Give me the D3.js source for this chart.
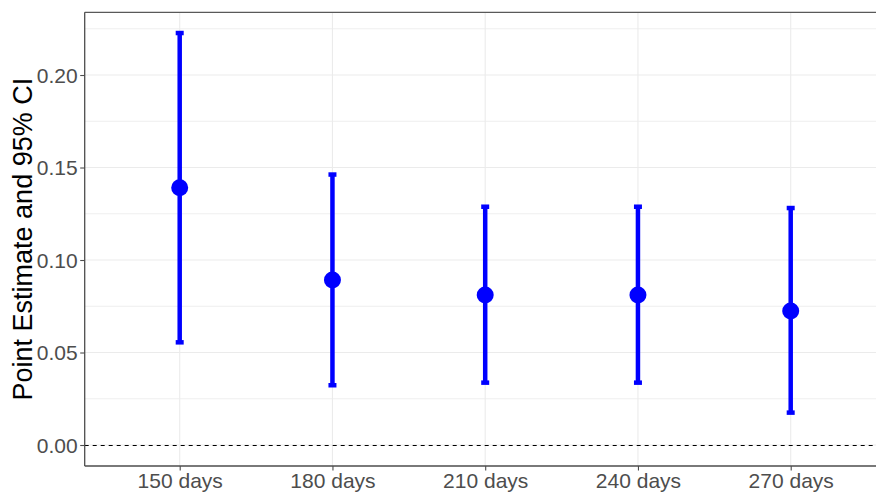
<!DOCTYPE html>
<html lang="en">
<head>
  <meta charset="UTF-8">
  <title>Point Estimate and 95% CI</title>
  <script src="https://d3js.org/d3.v7.min.js"></script>
  <style>
    body { margin: 0; background: #fff; }
    svg { display: block; font-family: "Liberation Sans", Arial, sans-serif; }
  </style>
</head>
<body>
  <div id="chart"></div>
  <script>
    // data
    var categories = ["150 days", "180 days", "210 days", "240 days", "270 days"];
    var estimates = [0.1390, 0.0892, 0.0811, 0.0811, 0.0724];
    var lowerCI = [0.0555, 0.0323, 0.0337, 0.0337, 0.0175];
    var upperCI = [0.2227, 0.1462, 0.1288, 0.1288, 0.1281];
    var yTicks = [0.00, 0.05, 0.10, 0.15, 0.20];
    var yMinorTicks = [0.025, 0.075, 0.125, 0.175, 0.225];

    var width = 876, height = 493;
    var panel = { left: 84.7, right: 876, top: 12.3, bottom: 466 };

    var svg = d3.select("#chart").append("svg")
      .attr("width", width)
      .attr("height", height);

    var x = d3.scalePoint()
      .domain(categories)
      .range([179.7, 790.7]);

    var y = d3.scaleLinear()
      .domain([-0.01135, 0.2339])
      .range([panel.bottom, panel.top]);

    // grid
    var grid = svg.append("g");
    grid.selectAll(".minor")
      .data(yMinorTicks)
      .enter().append("line")
      .attr("x1", panel.left).attr("x2", panel.right)
      .attr("y1", function (d) { return y(d); })
      .attr("y2", function (d) { return y(d); })
      .attr("stroke", "#ebebeb").attr("stroke-width", 0.8);
    grid.selectAll(".major")
      .data(yTicks)
      .enter().append("line")
      .attr("x1", panel.left).attr("x2", panel.right)
      .attr("y1", function (d) { return y(d); })
      .attr("y2", function (d) { return y(d); })
      .attr("stroke", "#ebebeb").attr("stroke-width", 1.1);
    grid.selectAll(".vmajor")
      .data(categories)
      .enter().append("line")
      .attr("y1", panel.top).attr("y2", panel.bottom)
      .attr("x1", function (d) { return x(d); })
      .attr("x2", function (d) { return x(d); })
      .attr("stroke", "#ebebeb").attr("stroke-width", 1.1);

    // reference line at zero (half pixel shift keeps it crisp)
    svg.append("line")
      .attr("x1", panel.left).attr("x2", panel.right)
      .attr("y1", y(0) + 0.5).attr("y2", y(0) + 0.5)
      .attr("stroke", "#000").attr("stroke-width", 1)
      .attr("stroke-dasharray", "4,4");

    // top border
    svg.append("line")
      .attr("x1", panel.left).attr("x2", panel.right)
      .attr("y1", panel.top).attr("y2", panel.top)
      .attr("stroke", "#595959").attr("stroke-width", 1.3);

    // axes
    var yAxis = svg.append("g")
      .attr("transform", "translate(" + panel.left + ",0)")
      .call(d3.axisLeft(y).tickValues(yTicks).tickFormat(d3.format(".2f")).tickSize(4.5).tickPadding(2.5));
    var xAxis = svg.append("g")
      .attr("transform", "translate(0," + panel.bottom + ")")
      .call(d3.axisBottom(x).tickSize(4.5).tickPadding(3));

    [yAxis, xAxis].forEach(function (a) {
      a.select(".domain").attr("stroke", "#4d4d4d").attr("stroke-width", 1.3);
      a.selectAll(".tick line").attr("stroke", "#4d4d4d").attr("stroke-width", 1.1);
      a.selectAll(".tick text")
        .attr("fill", "#4d4d4d")
        .style("font-size", "21px")
        .style("font-family", "Liberation Sans, Arial, sans-serif");
    });
    yAxis.select(".domain").attr("d", "M0," + panel.top + "V" + panel.bottom);
    xAxis.select(".domain").attr("d", "M" + panel.left + ",0H" + panel.right);
    yAxis.selectAll(".tick text").attr("dy", "0.35em");

    // y title
    svg.append("text")
      .attr("transform", "translate(32," + ((panel.top + panel.bottom) / 2) + ") rotate(-90)")
      .attr("text-anchor", "middle")
      .attr("fill", "#000")
      .style("font-size", "27px")
      .text("Point Estimate and 95% CI");

    // error bars
    var rows = categories.map(function (c, i) {
      return { cat: c, est: estimates[i], lo: lowerCI[i], hi: upperCI[i] };
    });
    var capHalf = 4;
    var bars = svg.append("g").selectAll("g")
      .data(rows)
      .enter().append("g");
    bars.append("line")
      .attr("x1", function (d) { return x(d.cat); })
      .attr("x2", function (d) { return x(d.cat); })
      .attr("y1", function (d) { return y(d.lo); })
      .attr("y2", function (d) { return y(d.hi); })
      .attr("stroke", "#0000ff").attr("stroke-width", 4.5);
    bars.append("line")
      .attr("x1", function (d) { return x(d.cat) - capHalf; })
      .attr("x2", function (d) { return x(d.cat) + capHalf; })
      .attr("y1", function (d) { return y(d.hi); })
      .attr("y2", function (d) { return y(d.hi); })
      .attr("stroke", "#0000ff").attr("stroke-width", 4.5);
    bars.append("line")
      .attr("x1", function (d) { return x(d.cat) - capHalf; })
      .attr("x2", function (d) { return x(d.cat) + capHalf; })
      .attr("y1", function (d) { return y(d.lo); })
      .attr("y2", function (d) { return y(d.lo); })
      .attr("stroke", "#0000ff").attr("stroke-width", 4.5);
    bars.append("circle")
      .attr("cx", function (d) { return x(d.cat); })
      .attr("cy", function (d) { return y(d.est); })
      .attr("r", 8.5)
      .attr("fill", "#0000ff");
  </script>
</body>
</html>
